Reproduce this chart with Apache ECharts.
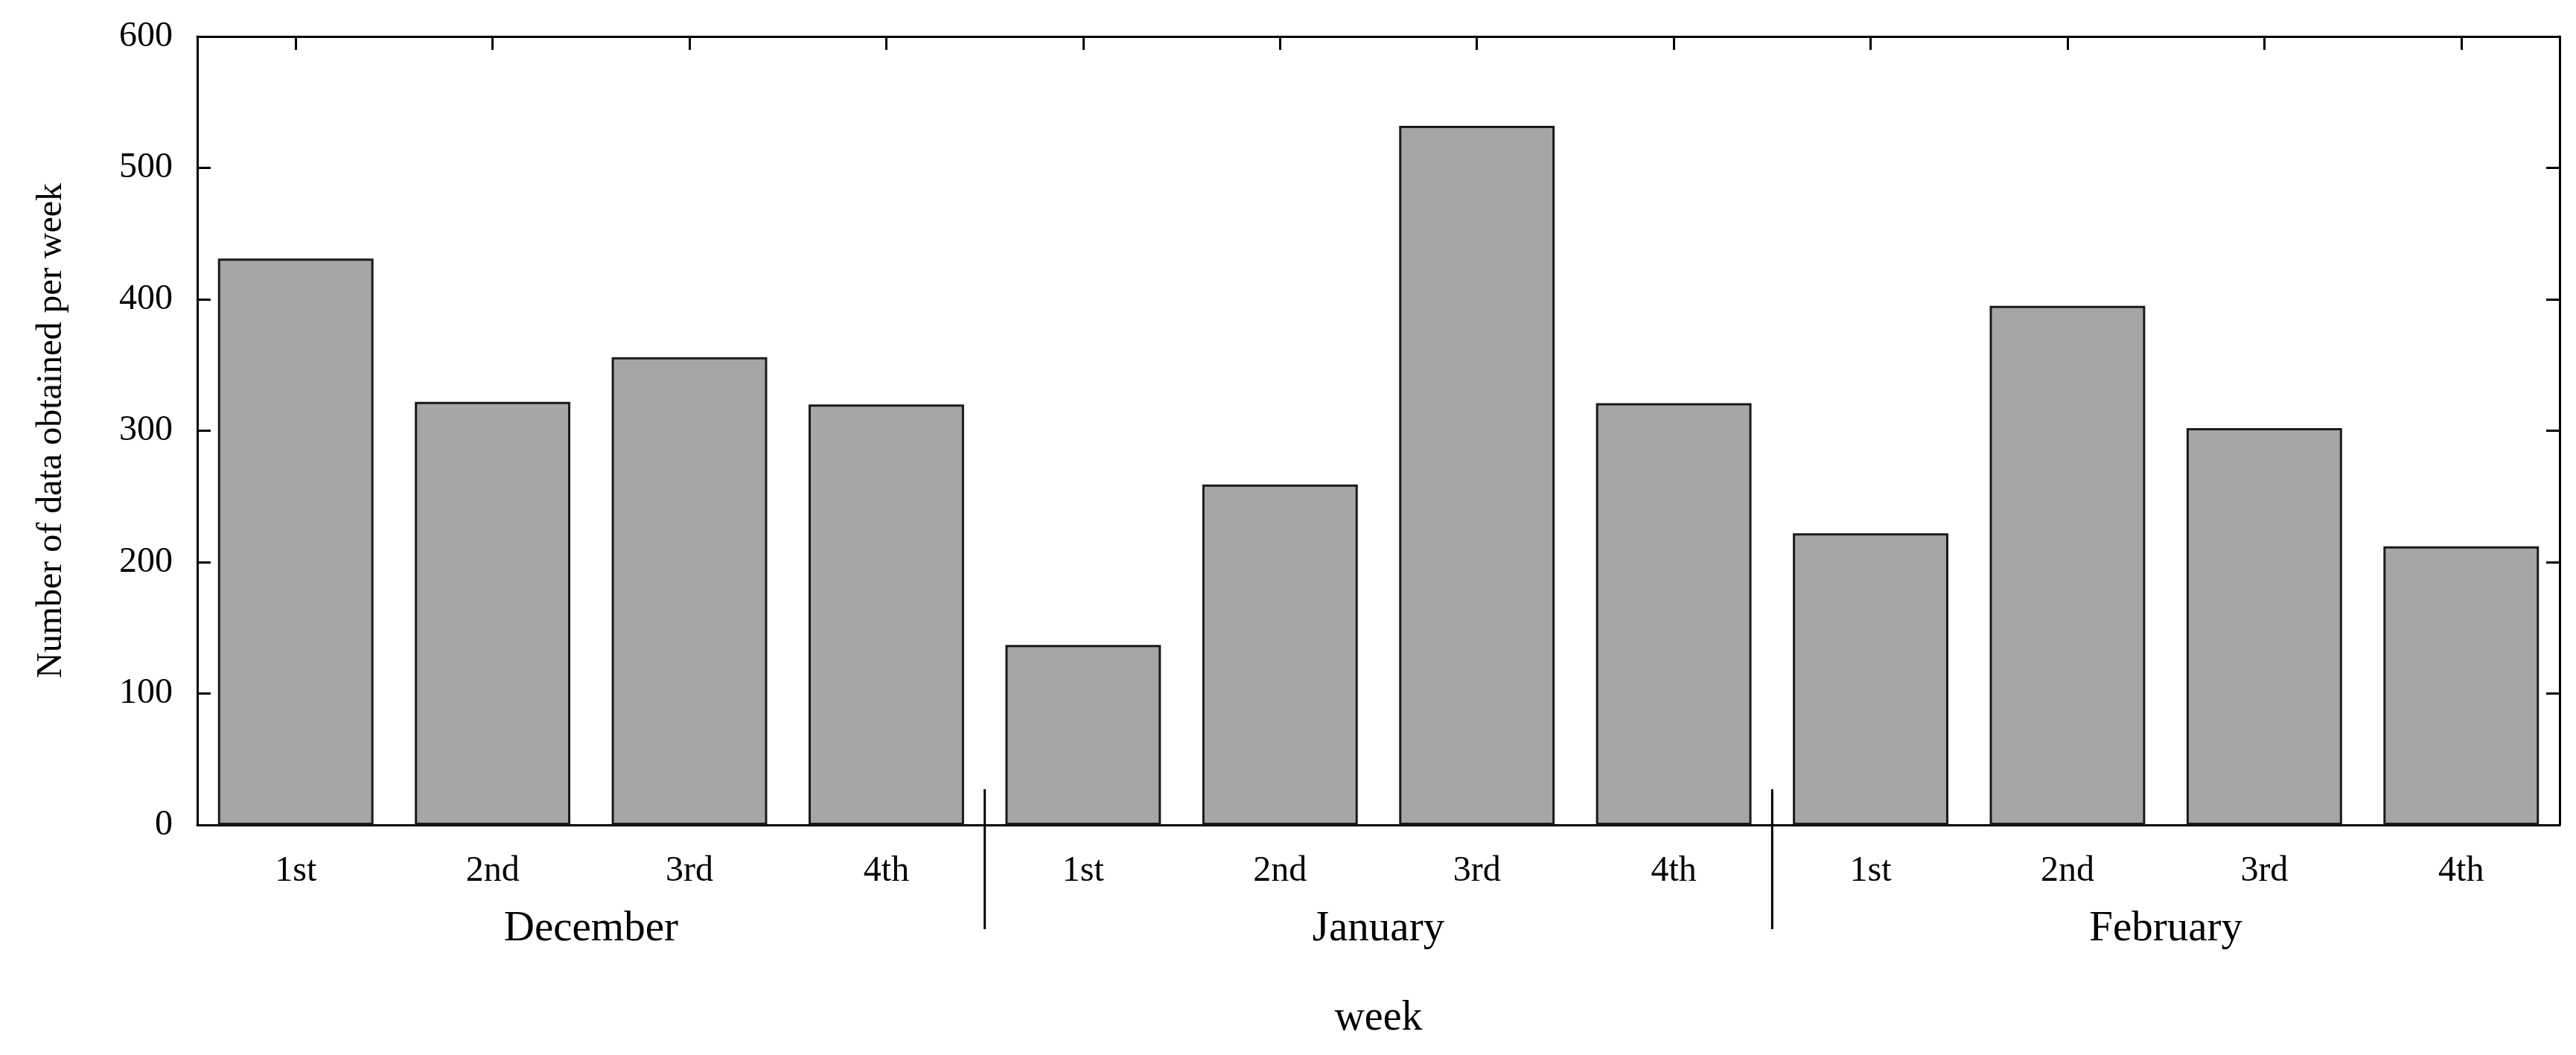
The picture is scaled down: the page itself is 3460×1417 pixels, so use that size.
<!DOCTYPE html>
<html>
<head>
<meta charset="utf-8">
<script src="https://cdn.jsdelivr.net/npm/echarts@6/dist/echarts.min.js"></script>
<style>html,body{margin:0;padding:0;background:#fff}#chart{width:3460px;height:1417px}</style>
</head>
<body>
<div id="chart"></div>
<script>
var weeks = ['1st', '2nd', '3rd', '4th', '1st', '2nd', '3rd', '4th', '1st', '2nd', '3rd', '4th'];
var months = ['December', 'January', 'February'];
var counts = [431, 322, 356, 320, 137, 259, 532, 321, 222, 395, 302, 212];

var font = 'Liberation Serif';
var chart = echarts.init(document.getElementById('chart'));
var lineStyle = { color: '#000', width: 3 };
var tick = { show: true, inside: true, length: 18, lineStyle: lineStyle };

chart.setOption({
  animation: false,
  grid: { left: 265, right: 22, top: 49, bottom: 309 },
  xAxis: [
    {
      type: 'category', data: weeks, position: 'bottom',
      axisLine: { lineStyle: lineStyle },
      axisTick: Object.assign({ alignWithLabel: true }, tick),
      axisLabel: { margin: 38, fontFamily: font, fontSize: 48, color: '#000' },
      name: 'week', nameLocation: 'middle', nameGap: 232,
      nameTextStyle: { fontFamily: font, fontSize: 56, color: '#000' }
    },
    {
      type: 'category', data: months, position: 'bottom', gridIndex: 0,
      axisLine: { show: false }, axisTick: { show: false },
      axisLabel: { margin: 112, fontFamily: font, fontSize: 57, color: '#000' }
    },
    {
      type: 'category', data: weeks, position: 'top',
      axisLine: { lineStyle: lineStyle },
      axisTick: Object.assign({ alignWithLabel: true }, tick),
      axisLabel: { show: false }
    }
  ],
  yAxis: [
    {
      type: 'value', min: 0, max: 600, interval: 100,
      axisLine: { show: true, lineStyle: lineStyle },
      axisTick: tick,
      splitLine: { show: false },
      axisLabel: { margin: 33, fontFamily: font, fontSize: 48, color: '#000' },
      name: 'Number of data obtained per week', nameLocation: 'middle', nameGap: 172,
      nameTextStyle: { fontFamily: font, fontSize: 48, color: '#000' }
    },
    {
      type: 'value', min: 0, max: 600, interval: 100, position: 'right',
      axisLine: { show: true, lineStyle: lineStyle },
      axisTick: tick,
      splitLine: { show: false },
      axisLabel: { show: false }
    }
  ],
  series: [{
    type: 'bar', data: counts, barWidth: '79%',
    itemStyle: { color: '#a6a6a6', borderColor: '#1a1a1a', borderWidth: 3 }
  }]
});

// month separators between 4th and 1st weeks
var seps = [];
[3, 7].forEach(function (i) {
  var x = (chart.convertToPixel({ xAxisIndex: 0 }, i) + chart.convertToPixel({ xAxisIndex: 0 }, i + 1)) / 2;
  var y0 = chart.convertToPixel({ yAxisIndex: 0 }, 0);
  seps.push({
    type: 'line', shape: { x1: x, y1: y0 - 48, x2: x, y2: y0 + 140 },
    style: { stroke: '#000', lineWidth: 3 }, z: 10
  });
});
chart.setOption({ graphic: seps });
</script>
</body>
</html>
